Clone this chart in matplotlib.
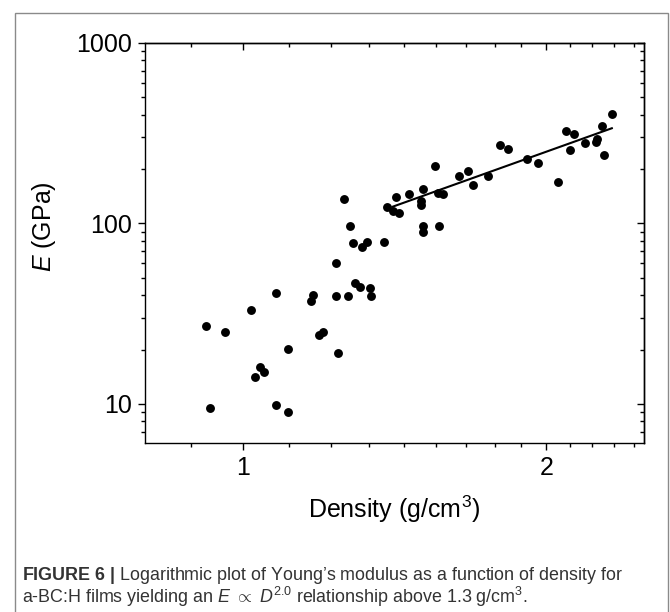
import numpy as np
import matplotlib
matplotlib.use("Agg")
import matplotlib.pyplot as plt
from matplotlib.patches import Rectangle
from matplotlib.ticker import FixedLocator, NullFormatter

plt.rcParams['font.family'] = ['Liberation Sans', 'DejaVu Sans']
plt.rcParams['mathtext.fontset'] = 'custom'
plt.rcParams['mathtext.rm'] = 'Liberation Sans'
plt.rcParams['mathtext.it'] = 'Liberation Sans:italic'
plt.rcParams['mathtext.bf'] = 'Liberation Sans:bold'

# density (g/cm3) and Young's modulus (GPa)
density = [0.920, 0.929, 0.960, 1.020, 1.029, 1.040, 1.049, 1.080, 1.080, 1.110,
           1.110, 1.168, 1.173, 1.190, 1.200, 1.238, 1.238, 1.242, 1.260, 1.272,
           1.279, 1.286, 1.292, 1.307, 1.313, 1.329, 1.336, 1.339, 1.380, 1.391,
           1.408, 1.419, 1.430, 1.461, 1.501, 1.504, 1.510, 1.510, 1.510, 1.550,
           1.561, 1.564, 1.581, 1.640, 1.672, 1.690, 1.750, 1.800, 1.832, 1.916,
           1.961, 2.054, 2.093, 2.109, 2.130, 2.183, 2.242, 2.247, 2.273, 2.281,
           2.323]
modulus = [27.1, 9.5, 25.0, 33.1, 14.1, 16.1, 15.0, 41.1, 9.8, 20.1,
           9.0, 37.0, 39.9, 24.2, 25.0, 60.1, 39.4, 19.1, 136.8, 39.7,
           96.2, 77.4, 46.5, 44.6, 74.1, 79.1, 43.9, 39.4, 79.1, 123.6,
           117.0, 139.3, 114.5, 145.9, 126.8, 132.4, 155.3, 96.6, 89.1, 207.5,
           147.3, 97.0, 144.6, 183.2, 195.3, 162.9, 183.2, 270.5, 259.0, 227.8,
           214.9, 168.6, 325.0, 253.6, 310.6, 279.2, 281.8, 291.6, 344.4, 239.9,
           400.7]

# E ~ D^2.0 fit line (end points)
fit_x = [1.408, 2.323]
fit_y = [123.5, 336.0]

fig = plt.figure(figsize=(6.7, 6.12), dpi=100)
ax = fig.add_axes([145 / 670, 1 - 443.3 / 612, (644 - 145) / 670, (443.3 - 42.7) / 612])

ax.plot(density, modulus, 'o', color='black', markersize=6.4, markeredgewidth=0)
ax.plot(fit_x, fit_y, '-', color='black', lw=1.5)

ax.set_xscale('log')
ax.set_yscale('log')
ax.set_xlim(0.8, 2.5)
ax.set_ylim(6.05, 1000)

xmajor = [1, 2]
xminor = [v for v in 1 + np.arange(-1, 14) / 9.0 if abs(v - 1) > 1e-9 and abs(v - 2) > 1e-9]
ymajor = [10, 100, 1000]
yminor = sorted(m * d for d in (1, 10, 100) for m in range(2, 10) if 6.05 <= m * d < 1000)

ax.xaxis.set_major_locator(FixedLocator(xmajor))
ax.xaxis.set_minor_locator(FixedLocator(xminor))
ax.set_xticklabels(['1', '2'])
ax.xaxis.set_minor_formatter(NullFormatter())
ax.yaxis.set_major_locator(FixedLocator(ymajor))
ax.yaxis.set_minor_locator(FixedLocator(yminor))
ax.set_yticklabels(['10', '100', '1000'])
ax.yaxis.set_minor_formatter(NullFormatter())

ax.tick_params(which='major', direction='out', length=5, width=1.0, labelsize=18, pad=4)
ax.tick_params(which='minor', direction='out', length=2.6, width=1.0)
ax.tick_params(axis='y', which='major', pad=4.5)
for s in ax.spines.values():
    s.set_linewidth(1.0)

# inward ticks on top and right
top = ax.secondary_xaxis('top')
top.xaxis.set_major_locator(FixedLocator(xmajor))
top.xaxis.set_minor_locator(FixedLocator(xminor))
top.xaxis.set_major_formatter(NullFormatter())
top.xaxis.set_minor_formatter(NullFormatter())
top.tick_params(which='major', direction='in', length=5, width=1.0)
top.tick_params(which='minor', direction='in', length=2.6, width=1.0)
right = ax.secondary_yaxis('right')
right.yaxis.set_major_locator(FixedLocator(ymajor))
right.yaxis.set_minor_locator(FixedLocator(yminor))
right.yaxis.set_major_formatter(NullFormatter())
right.yaxis.set_minor_formatter(NullFormatter())
right.tick_params(which='major', direction='in', length=5, width=1.0)
right.tick_params(which='minor', direction='in', length=2.6, width=1.0)
for sec in (top, right):
    for s in sec.spines.values():
        s.set_linewidth(1.0)

ax.set_xlabel(r'Density (g/cm$^3$)', fontsize=18, labelpad=10)
ax.set_ylabel(r'$E$ (GPa)', fontsize=18)
ax.yaxis.set_label_coords(-0.175, 0.54)

# figure border and caption
fig.patches.append(Rectangle((15 / 670, -0.02), (668 - 15) / 670, 1 - 13 / 612 + 0.02,
                             transform=fig.transFigure, fill=False,
                             edgecolor='#8a8a8a', lw=1.0))
fig.text(22 / 670, 1 - 575 / 612,
         r'$\mathbf{FIGURE\ 6\ |}$ Logarithmic plot of Young’s modulus as a function of density for',
         fontsize=12.9, color='#333333', va='center', ha='left')
fig.text(22 / 670, 1 - 597 / 612,
         r'a-BC:H films yielding an $E$ $\propto$ $D^{2.0}$ relationship above 1.3 g/cm$^3$.',
         fontsize=12.9, color='#333333', va='center', ha='left')

fig.savefig('out.png', dpi=100)
